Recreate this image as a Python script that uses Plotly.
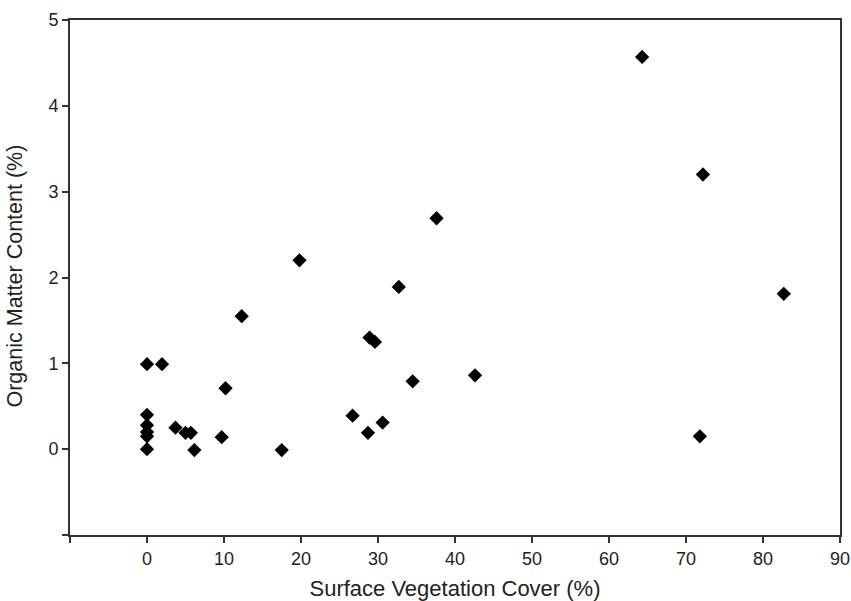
import plotly.graph_objects as go

veg_cover = [64.3, 72.2, 37.6, 19.8, 32.7, 82.7, 12.3, 28.9, 29.6,
             0.0, 1.95, 10.2, 34.5, 42.6, 26.7, 28.7, 30.6, 17.5, 71.8,
             0.0, 0.0, 0.0, 0.0, 0.0, 3.7, 5.0, 5.7, 6.15, 9.7]
organic_matter = [4.57, 3.2, 2.69, 2.2, 1.89, 1.81, 1.55, 1.30, 1.25,
                  0.99, 0.99, 0.71, 0.79, 0.86, 0.39, 0.19, 0.31, -0.01, 0.15,
                  0.40, 0.28, 0.20, 0.15, 0.0, 0.25, 0.19, 0.19, -0.01, 0.14]

x_tickvals = [-10, 0, 10, 20, 30, 40, 50, 60, 70, 80, 90]
x_ticktext = ["", "0", "10", "20", "30", "40", "50", "60", "70", "80", "90"]
y_tickvals = [-1, 0, 1, 2, 3, 4, 5]
y_ticktext = ["", "0", "1", "2", "3", "4", "5"]

FONT = "Liberation Sans, Arial"

fig = go.Figure(go.Scatter(
    x=veg_cover, y=organic_matter, mode="markers",
    marker=dict(symbol="diamond", size=11, color="black"),
    showlegend=False,
))

axis_common = dict(
    showgrid=False, zeroline=False, showline=True, linecolor="#333333",
    linewidth=2, mirror=True, ticks="outside", ticklen=6, tickwidth=2,
    tickcolor="#333333", automargin=False,
    tickfont=dict(family=FONT, size=18, color="#222222"),
)

fig.update_layout(
    width=851, height=601,
    margin=dict(l=70, r=11, t=20, b=66),
    paper_bgcolor="white", plot_bgcolor="white",
    xaxis=dict(range=[-10, 90], tickvals=x_tickvals, ticktext=x_ticktext,
               title=dict(text="Surface Vegetation Cover (%)", standoff=16,
                          font=dict(family=FONT, size=22, color="#222222")),
               **axis_common),
    yaxis=dict(range=[-1, 5], tickvals=y_tickvals, ticktext=y_ticktext,
               **axis_common),
    annotations=[dict(
        text="Organic Matter Content (%)", textangle=-90,
        xref="paper", yref="paper", x=-0.072, y=0.503,
        xanchor="center", yanchor="middle", showarrow=False,
        font=dict(family=FONT, size=21.5, color="#222222"),
    )],
)

fig.write_html("out.html")
